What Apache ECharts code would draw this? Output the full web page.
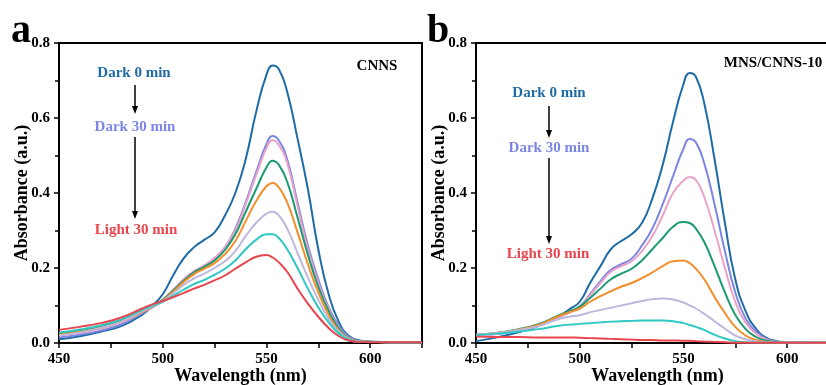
<!DOCTYPE html>
<html>
<head>
<meta charset="utf-8">
<script src="https://cdn.jsdelivr.net/npm/echarts@6/dist/echarts.min.js"></script>
<style>
	html, body { margin: 0; padding: 0; background: #fff; }
	#chart { width: 826px; height: 385px; }
</style>
</head>
<body>
<div id="chart"></div>
<script>
// wavelength samples (nm), shared by every curve
const wavelengths = [450, 460, 470, 480, 490, 495, 500, 505, 510, 515, 520, 525, 530, 535, 540, 545, 550, 553, 556, 560, 565, 570, 575, 580, 585, 590, 595, 600, 610, 625];

// panel a: CNNS, from Dark 0 min (first) to Light 30 min (last)
const cnns0 = [0.010, 0.018, 0.030, 0.045, 0.075, 0.100, 0.130, 0.180, 0.225, 0.255, 0.275, 0.295, 0.340, 0.400, 0.490, 0.615, 0.715, 0.740, 0.730, 0.670, 0.545, 0.410, 0.250, 0.130, 0.055, 0.018, 0.007, 0.004, 0.002, 0.002];
const cnns1 = [0.015, 0.022, 0.033, 0.050, 0.080, 0.095, 0.113, 0.140, 0.168, 0.190, 0.205, 0.225, 0.255, 0.305, 0.375, 0.455, 0.530, 0.552, 0.540, 0.490, 0.375, 0.260, 0.170, 0.095, 0.045, 0.015, 0.006, 0.003, 0.002, 0.002];
const cnns2 = [0.020, 0.027, 0.038, 0.055, 0.082, 0.097, 0.115, 0.142, 0.170, 0.192, 0.207, 0.227, 0.255, 0.300, 0.370, 0.447, 0.520, 0.541, 0.528, 0.480, 0.365, 0.250, 0.160, 0.090, 0.040, 0.013, 0.005, 0.003, 0.002, 0.002];
const cnns3 = [0.025, 0.032, 0.043, 0.060, 0.085, 0.098, 0.115, 0.140, 0.165, 0.188, 0.203, 0.220, 0.248, 0.290, 0.350, 0.410, 0.468, 0.486, 0.475, 0.430, 0.335, 0.235, 0.150, 0.085, 0.038, 0.012, 0.005, 0.003, 0.002, 0.002];
const cnns4 = [0.022, 0.030, 0.040, 0.057, 0.083, 0.097, 0.113, 0.137, 0.162, 0.183, 0.198, 0.213, 0.237, 0.272, 0.325, 0.378, 0.418, 0.427, 0.415, 0.375, 0.295, 0.210, 0.135, 0.075, 0.033, 0.011, 0.004, 0.003, 0.002, 0.002];
const cnns5 = [0.020, 0.028, 0.040, 0.057, 0.085, 0.098, 0.112, 0.132, 0.155, 0.172, 0.185, 0.200, 0.218, 0.245, 0.285, 0.320, 0.345, 0.350, 0.340, 0.305, 0.240, 0.175, 0.115, 0.065, 0.030, 0.010, 0.004, 0.003, 0.002, 0.002];
const cnns6 = [0.028, 0.036, 0.047, 0.063, 0.088, 0.100, 0.110, 0.126, 0.142, 0.157, 0.168, 0.182, 0.198, 0.220, 0.250, 0.275, 0.290, 0.290, 0.280, 0.250, 0.200, 0.145, 0.095, 0.055, 0.025, 0.008, 0.003, 0.003, 0.002, 0.002];
const cnns7 = [0.035, 0.043, 0.053, 0.068, 0.092, 0.103, 0.112, 0.122, 0.133, 0.145, 0.155, 0.167, 0.180, 0.198, 0.215, 0.230, 0.235, 0.228, 0.215, 0.190, 0.145, 0.105, 0.070, 0.040, 0.018, 0.006, 0.003, 0.002, 0.002, 0.002];

// panel b: MNS/CNNS-10, same order
const mns0 = [0.005, 0.015, 0.028, 0.045, 0.072, 0.090, 0.110, 0.160, 0.205, 0.250, 0.272, 0.290, 0.320, 0.385, 0.475, 0.590, 0.690, 0.720, 0.710, 0.640, 0.490, 0.320, 0.170, 0.085, 0.038, 0.014, 0.005, 0.002, 0.001, 0.001];
const mns1 = [0.020, 0.024, 0.032, 0.046, 0.070, 0.082, 0.097, 0.130, 0.165, 0.195, 0.210, 0.225, 0.260, 0.305, 0.370, 0.445, 0.518, 0.544, 0.535, 0.480, 0.370, 0.245, 0.135, 0.065, 0.030, 0.011, 0.004, 0.002, 0.001, 0.001];
const mns2 = [0.020, 0.024, 0.032, 0.046, 0.070, 0.082, 0.095, 0.127, 0.160, 0.190, 0.205, 0.218, 0.245, 0.285, 0.340, 0.400, 0.433, 0.443, 0.435, 0.390, 0.300, 0.200, 0.110, 0.055, 0.025, 0.009, 0.003, 0.002, 0.001, 0.001];
const mns3 = [0.022, 0.027, 0.036, 0.050, 0.074, 0.085, 0.097, 0.120, 0.145, 0.170, 0.185, 0.198, 0.220, 0.250, 0.280, 0.310, 0.323, 0.320, 0.305, 0.270, 0.205, 0.135, 0.075, 0.037, 0.016, 0.006, 0.002, 0.001, 0.001, 0.001];
const mns4 = [0.022, 0.027, 0.035, 0.048, 0.072, 0.082, 0.092, 0.110, 0.125, 0.138, 0.150, 0.160, 0.173, 0.188, 0.205, 0.218, 0.220, 0.213, 0.198, 0.170, 0.123, 0.080, 0.043, 0.020, 0.008, 0.003, 0.001, 0.001, 0.001, 0.001];
const mns5 = [0.022, 0.027, 0.034, 0.045, 0.064, 0.070, 0.074, 0.082, 0.088, 0.094, 0.100, 0.106, 0.112, 0.117, 0.119, 0.116, 0.108, 0.100, 0.092, 0.078, 0.058, 0.038, 0.020, 0.010, 0.004, 0.002, 0.001, 0.001, 0.001, 0.001];
const mns6 = [0.021, 0.025, 0.030, 0.037, 0.046, 0.049, 0.051, 0.053, 0.055, 0.057, 0.058, 0.059, 0.060, 0.060, 0.060, 0.058, 0.053, 0.048, 0.043, 0.035, 0.022, 0.012, 0.005, 0.002, 0.001, 0.001, 0.001, 0.001, 0.001, 0.001];
const mns7 = [0.017, 0.016, 0.016, 0.015, 0.015, 0.015, 0.014, 0.013, 0.012, 0.011, 0.010, 0.009, 0.008, 0.008, 0.007, 0.007, 0.006, 0.006, 0.005, 0.004, 0.003, 0.002, 0.001, 0.001, 0.001, 0.001, 0.001, 0.001, 0.001, 0.001];

const colors = ['#1f6ba6', '#7b86e3', '#eaa3c8', '#1b9a73', '#f28e2b', '#bdb9dd', '#2fc8c2', '#e8464e'];
const panelLabels = ['Dark 0 min', 'Dark 30 min', 'Light 30 min'];
const sampleNames = ['CNNS', 'MNS/CNNS-10'];

const font = "'Liberation Serif', 'Times New Roman', serif";
const chart = echarts.init(document.getElementById('chart'), null, { renderer: 'canvas' });

function xAxis(gridIndex) {
	return {
		type: 'value',
		gridIndex,
		min: 450,
		max: 625,
		interval: 25,
		name: 'Wavelength (nm)',
		nameLocation: 'middle',
		nameGap: 24,
		nameMoveOverlap: false,
		nameTextStyle: { fontFamily: font, fontWeight: 'bold', fontSize: 18, color: '#000' },
		axisLine: { onZero: false, lineStyle: { color: '#000', width: 2 } },
		axisTick: { inside: false, length: 5, lineStyle: { color: '#000', width: 1.5 } },
		axisLabel: {
			margin: 9,
			fontFamily: font,
			fontWeight: 'bold',
			fontSize: 15,
			color: '#000',
			formatter: v => (v % 50 === 0 && v < 625 ? String(v) : ''),
		},
		splitLine: { show: false },
	};
}

function yAxis(gridIndex) {
	return {
		type: 'value',
		gridIndex,
		min: 0,
		max: 0.8,
		interval: 0.2,
		name: 'Absorbance (a.u.)',
		nameLocation: 'middle',
		nameGap: 28,
		nameMoveOverlap: false,
		nameTextStyle: { fontFamily: font, fontWeight: 'bold', fontSize: 18, color: '#000' },
		axisLine: { show: true, onZero: false, lineStyle: { color: '#000', width: 2 } },
		axisTick: { show: true, inside: false, length: 5, lineStyle: { color: '#000', width: 1.5 } },
		minorTick: { show: true, splitNumber: 2, length: 4, lineStyle: { color: '#000', width: 1.5 } },
		axisLabel: {
			margin: 9,
			fontFamily: font,
			fontWeight: 'bold',
			fontSize: 15,
			color: '#000',
			formatter: v => v.toFixed(1),
		},
		splitLine: { show: false },
		minorSplitLine: { show: false },
	};
}

function makeSeries(curves, gridIndex) {
	return curves.map((vals, i) => ({
		type: 'line',
		xAxisIndex: gridIndex,
		yAxisIndex: gridIndex,
		smooth: 0.5,
		symbol: 'none',
		silent: true,
		data: wavelengths.map((w, k) => [w, vals[k]]),
		lineStyle: { width: 2, color: colors[i] },
	}));
}

function text(str, x, y, color, size) {
	return {
		type: 'text',
		x,
		y,
		style: {
			text: str,
			fill: color,
			font: `bold ${size}px ${font}`,
			textAlign: 'center',
			textVerticalAlign: 'middle',
		},
	};
}

function arrow(x, y1, y2) {
	return {
		type: 'group',
		children: [
			{ type: 'line', shape: { x1: x, y1, x2: x, y2: y2 - 6 }, style: { stroke: '#000', lineWidth: 1.5 } },
			{ type: 'polygon', shape: { points: [[x - 3, y2 - 8], [x + 3, y2 - 8], [x, y2]] }, style: { fill: '#000' } },
		],
	};
}

const grids = [
	{ left: 59, top: 43, width: 363, height: 300 },
	{ left: 476, top: 43, width: 363, height: 300 },
].map(g => ({ ...g, show: true, borderColor: '#000', borderWidth: 2, backgroundColor: 'transparent', outerBoundsMode: 'none', containLabel: false }));

const option = {
	backgroundColor: '#fff',
	animation: false,
	grid: grids,
	xAxis: [xAxis(0), xAxis(1)],
	yAxis: [yAxis(0), yAxis(1)],
	series: [
		...makeSeries([cnns0, cnns1, cnns2, cnns3, cnns4, cnns5, cnns6, cnns7], 0),
		...makeSeries([mns0, mns1, mns2, mns3, mns4, mns5, mns6, mns7], 1),
	],
	graphic: [
		{ type: 'text', x: 11, y: 52, style: { text: 'a', fill: '#000', font: `bold 40px ${font}`, textVerticalAlign: 'bottom' } },
		{ type: 'text', x: 427, y: 52, style: { text: 'b', fill: '#000', font: `bold 40px ${font}`, textVerticalAlign: 'bottom' } },
		text(sampleNames[0], 377, 66, '#000', 15),
		text(sampleNames[1], 773, 63, '#000', 15),

		text(panelLabels[0], 134, 73, colors[0], 15),
		arrow(135, 85, 114),
		text(panelLabels[1], 135, 127, colors[1], 15),
		arrow(135, 137, 219),
		text(panelLabels[2], 136, 230, colors[7], 15),

		text(panelLabels[0], 549, 93, colors[0], 15),
		arrow(549, 106, 138),
		text(panelLabels[1], 549, 148, colors[1], 15),
		arrow(549, 158, 244),
		text(panelLabels[2], 548, 254, colors[7], 15),
	],
};

chart.setOption(option);
</script>
</body>
</html>
